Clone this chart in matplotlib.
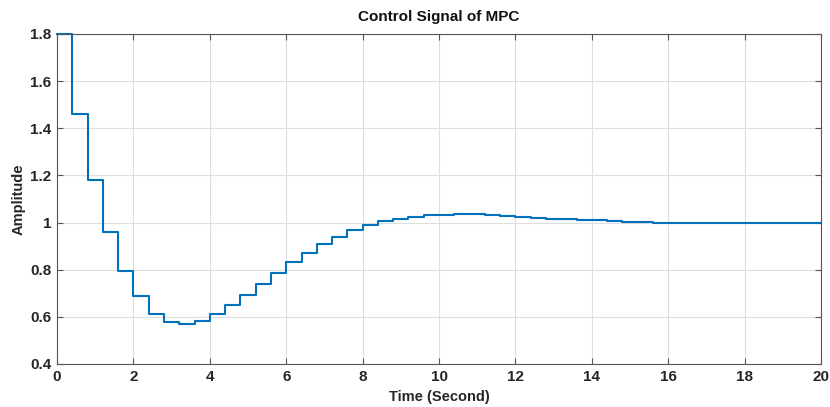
import numpy as np
import matplotlib
matplotlib.use("Agg")
import matplotlib.pyplot as plt

# Control signal, one value per 0.4 s sample
dt = 0.4
u = [1.80, 1.459, 1.182, 0.959, 0.796, 0.690, 0.613, 0.577, 0.569, 0.583,
     0.610, 0.649, 0.691, 0.739, 0.786, 0.831, 0.872, 0.908, 0.939, 0.968,
     0.989, 1.007, 1.015, 1.025, 1.030, 1.034, 1.037, 1.037, 1.031, 1.027,
     1.023, 1.020, 1.015, 1.013, 1.010, 1.009, 1.007, 1.004, 1.003, 1.000,
     1.000, 1.000, 1.000, 1.000, 1.000, 1.000, 1.000, 1.000, 1.000, 1.000]
t = np.arange(len(u)) * dt

x_ticks = [0, 2, 4, 6, 8, 10, 12, 14, 16, 18, 20]
y_ticks = [0.4, 0.6, 0.8, 1.0, 1.2, 1.4, 1.6, 1.8]
y_labels = ["0.4", "0.6", "0.8", "1", "1.2", "1.4", "1.6", "1.8"]

plt.rcParams['font.family'] = ['Liberation Sans', 'DejaVu Sans']
plt.rcParams['font.weight'] = 'bold'

fig = plt.figure(figsize=(8.3, 4.07), dpi=100)
ax = fig.add_axes([0.0687, 0.1057, 0.9205, 0.8108])

# extend last sample to the end of the time axis
tt = np.append(t, 20.0)
uu = np.append(u, u[-1])
ax.step(tt, uu, where='post', color='#0072BD', linewidth=1.5, clip_on=False)

ax.set_xlim(0, 20)
ax.set_ylim(0.4, 1.8)
ax.set_xticks(x_ticks)
ax.set_yticks(y_ticks)
ax.set_yticklabels(y_labels)
ax.grid(True, color='#dedede', linewidth=0.8)
ax.set_axisbelow(True)

for s in ax.spines.values():
    s.set_color('#555555')
    s.set_linewidth(0.8)
ax.tick_params(direction='in', top=True, right=True, length=4, width=0.8,
               colors='#555555', labelcolor='#262626', labelsize=11, pad=4)
for lab in ax.get_xticklabels() + ax.get_yticklabels():
    lab.set_fontweight('bold')

ax.set_title('Control Signal of MPC', fontsize=11, fontweight='bold', color='#111111', pad=9)
ax.set_xlabel('Time (Second)', fontsize=10.5, fontweight='bold', color='#262626', labelpad=5)
ax.set_ylabel('Amplitude', fontsize=10.5, fontweight='bold', color='#262626', labelpad=3)

fig.savefig('out.png', dpi=100)
